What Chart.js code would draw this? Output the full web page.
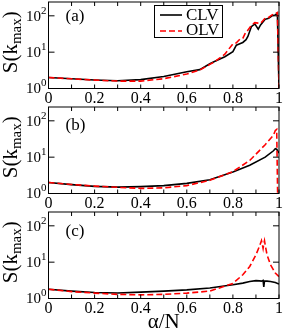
<!DOCTYPE html>
<html><head><meta charset="utf-8">
<script src="https://cdn.jsdelivr.net/npm/chart.js@4/dist/chart.umd.min.js"></script>
<style>
html,body{margin:0;padding:0;background:#fff;}
#wrap{position:relative;width:284px;height:331px;overflow:hidden;background:#fff;}
canvas{position:absolute;left:0;}
</style></head><body>
<div id="wrap">
<canvas id="ca" width="284" height="106" style="top:0px"></canvas>
<canvas id="cb" width="284" height="106" style="top:105px"></canvas>
<canvas id="cc" width="284" height="121" style="top:210px"></canvas>
</div>
<script>
const xTickLabels = ['0', '0.2', '0.4', '0.6', '0.8', '1'];
const yTickExponents = [0, 1, 2];
const seriesNames = ['CLV', 'OLV'];
const panelLabels = ['(a)', '(b)', '(c)'];
const xTitle = 'α/N';

const alphaA = [0, 0.1, 0.2, 0.3, 0.4, 0.5, 0.6, 0.656, 0.7, 0.72, 0.765, 0.8, 0.815, 0.83, 0.843, 0.857, 0.865, 0.88, 0.895, 0.91, 0.92, 0.94, 0.955, 0.97, 0.984, 0.993, 1.0];
const clvA = [2.0, 1.85, 1.72, 1.64, 1.76, 2.15, 2.9, 3.3, 4.8, 5.5, 7.5, 10.3, 15.5, 17, 18.5, 22, 27, 50, 60, 43, 56, 80, 86, 100, 106, 118, 1];
const olvA = [2.0, 1.85, 1.7, 1.6, 1.6, 1.86, 2.5, 3.2, 4.6, 5.4, 8.8, 17, 18, 22.6, 24, 37, 40, 55, 65, 63, 62, 86, 90, 106, 115, 123, 1];

const alphaB = [0, 0.1, 0.2, 0.3, 0.4, 0.5, 0.6, 0.7, 0.8, 0.873, 0.94, 0.976, 0.984, 0.99, 0.994, 1.0];
const clvB = [2.0, 1.75, 1.57, 1.5, 1.55, 1.65, 1.9, 2.4, 3.9, 6.0, 10, 15, 17, 16.5, 15, 13];
const olvB = [2.0, 1.77, 1.6, 1.48, 1.38, 1.43, 1.65, 2.3, 4.0, 8.1, 22, 40, 54, 58, 1, 1];

const alphaC = [0, 0.1, 0.2, 0.3, 0.4, 0.5, 0.6, 0.7, 0.8, 0.843, 0.873, 0.9, 0.915, 0.924, 0.928, 0.931, 0.934, 0.937, 0.94, 0.948, 0.963, 0.984, 1.0];
const clvC = [1.8, 1.6, 1.46, 1.42, 1.5, 1.6, 1.73, 1.95, 2.38, 2.65, 2.94, 3.1, 3.05, 3.0, 3.1, 3.15, 2.1, 3.0, 3.0, 3.0, 2.95, 2.75, 2.5];
const olvC = [1.8, 1.55, 1.41, 1.3, 1.26, 1.3, 1.41, 1.6, 2.6, 4.5, 7.6, 16, 27, 39, 30, 24, 32, 39, 30, 16, 8.5, 5, 4.0];

const SERIF = '"Liberation Serif", "Times New Roman", serif';

function pts(xs, ys) { return xs.map((v, i) => ({ x: v, y: ys[i] })); }

const deco = {
  id: 'deco',
  afterDraw(chart, args, o) {
    const { ctx, chartArea: a, scales: { x, y } } = chart;
    ctx.save();
    ctx.strokeStyle = '#000';
    ctx.lineWidth = 1;
    ctx.setLineDash([]);
    ctx.strokeRect(a.left, a.top, a.right - a.left, a.bottom - a.top);
    ctx.beginPath();
    x.ticks.forEach(t => {
      const px = x.getPixelForValue(t.value);
      ctx.moveTo(px, a.bottom); ctx.lineTo(px, a.bottom - 4);
      ctx.moveTo(px, a.top); ctx.lineTo(px, a.top + 4);
    });
    yTickExponents.forEach(e => {
      const py = y.getPixelForValue(Math.pow(10, e));
      ctx.moveTo(a.left, py); ctx.lineTo(a.left + 6, py);
      ctx.moveTo(a.right, py); ctx.lineTo(a.right - 6, py);
    });
    ctx.stroke();

    // y tick labels 10^n
    ctx.fillStyle = '#000';
    ctx.textAlign = 'right';
    ctx.textBaseline = 'middle';
    yTickExponents.forEach(e => {
      const py = y.getPixelForValue(Math.pow(10, e));
      ctx.font = '11px ' + SERIF;
      const s = String(e);
      const w = ctx.measureText(s).width;
      ctx.fillText(s, a.left - 2, py - 5);
      ctx.font = '15px ' + SERIF;
      ctx.fillText('10', a.left - 2 - w, py + 1);
    });

    // y title S(k_max)
    const cy = (a.top + a.bottom) / 2 - 3;
    ctx.save();
    ctx.translate(10, cy);
    ctx.rotate(-Math.PI / 2);
    ctx.textAlign = 'left';
    ctx.textBaseline = 'alphabetic';
    const f1 = '21px ' + SERIF, f2 = '15px ' + SERIF;
    ctx.font = f1; const w1 = ctx.measureText('S(k').width; const w3 = ctx.measureText(')').width;
    ctx.font = f2; const w2 = ctx.measureText('max').width;
    let xx = -(w1 + w2 + w3) / 2;
    ctx.font = f1; ctx.fillText('S(k', xx, 7); xx += w1;
    ctx.font = f2; ctx.fillText('max', xx, 11); xx += w2;
    ctx.font = f1; ctx.fillText(')', xx, 7);
    ctx.restore();

    // panel label
    ctx.textAlign = 'left';
    ctx.textBaseline = 'alphabetic';
    ctx.font = '17px ' + SERIF;
    ctx.fillText(o.label, a.left + 17, a.top + o.labelDy);

    // legend
    if (o.legend) {
      const bx = 154, by = 5, bw = 68, bh = 32;
      ctx.fillStyle = '#fff';
      ctx.fillRect(bx, by, bw, bh);
      ctx.strokeStyle = '#000';
      ctx.lineWidth = 1;
      ctx.strokeRect(bx + 0.5, by + 0.5, bw, bh);
      ctx.lineWidth = 1.6;
      ctx.beginPath(); ctx.moveTo(160, 15); ctx.lineTo(182, 15); ctx.stroke();
      ctx.strokeStyle = '#ff0000';
      ctx.setLineDash([6, 3]);
      ctx.beginPath(); ctx.moveTo(160, 31); ctx.lineTo(182, 31); ctx.stroke();
      ctx.setLineDash([]);
      ctx.fillStyle = '#000';
      ctx.font = '17px ' + SERIF;
      ctx.textBaseline = 'middle';
      ctx.fillText(seriesNames[0], 186, 16);
      ctx.fillText(seriesNames[1], 186, 31);
    }

    // x title
    if (o.xTitle) {
      ctx.fillStyle = '#000';
      ctx.font = '21px ' + SERIF;
      ctx.textAlign = 'center';
      ctx.textBaseline = 'alphabetic';
      ctx.fillText(xTitle, (a.left + a.right) / 2, a.bottom + 29);
    }
    ctx.restore();
  }
};

function makeChart(id, xs, clv, olv, opts) {
  return new Chart(document.getElementById(id), {
    type: 'line',
    data: {
      datasets: [
        { label: seriesNames[0], data: pts(xs, clv), borderColor: '#000', borderWidth: 1.6, pointRadius: 0, tension: 0, order: 1, fill: false },
        { label: seriesNames[1], data: pts(xs, olv), borderColor: '#ff0000', borderWidth: 1.6, borderDash: [6, 3], pointRadius: 0, tension: 0, order: 0, fill: false }
      ]
    },
    options: {
      responsive: false,
      animation: false,
      devicePixelRatio: 1,
      layout: { padding: { top: opts.top, right: 4.5, left: 0, bottom: 0 } },
      plugins: {
        legend: { display: false },
        tooltip: { enabled: false },
        deco: { label: opts.label, labelDy: opts.labelDy, legend: opts.legend, xTitle: opts.xTitle }
      },
      scales: {
        x: {
          type: 'linear', min: 0, max: 1,
          grid: { display: false, drawTicks: false },
          border: { display: false },
          ticks: {
            stepSize: 0.1, autoSkip: false, maxRotation: 0, padding: 1,
            color: '#000', font: { family: SERIF, size: 16 },
            callback: (v, i) => (i % 2 === 0 ? xTickLabels[i / 2] : '')
          },
          afterFit: s => { s.height = opts.xh; }
        },
        y: {
          type: 'logarithmic', min: 1, max: 240,
          grid: { display: false, drawTicks: false },
          border: { display: false },
          ticks: { display: false },
          afterFit: s => { s.width = 48.5; }
        }
      }
    },
    plugins: [deco]
  });
}

makeChart('ca', alphaA, clvA, olvA, { top: 2, label: panelLabels[0], labelDy: 19, legend: true, xTitle: false, xh: 17.5 });
makeChart('cb', alphaB, clvB, olvB, { top: 2, label: panelLabels[1], labelDy: 23, legend: false, xTitle: false, xh: 17.5 });
makeChart('cc', alphaC, clvC, olvC, { top: 2, label: panelLabels[2], labelDy: 24, legend: false, xTitle: true, xh: 32.5 });
</script>
</body></html>
